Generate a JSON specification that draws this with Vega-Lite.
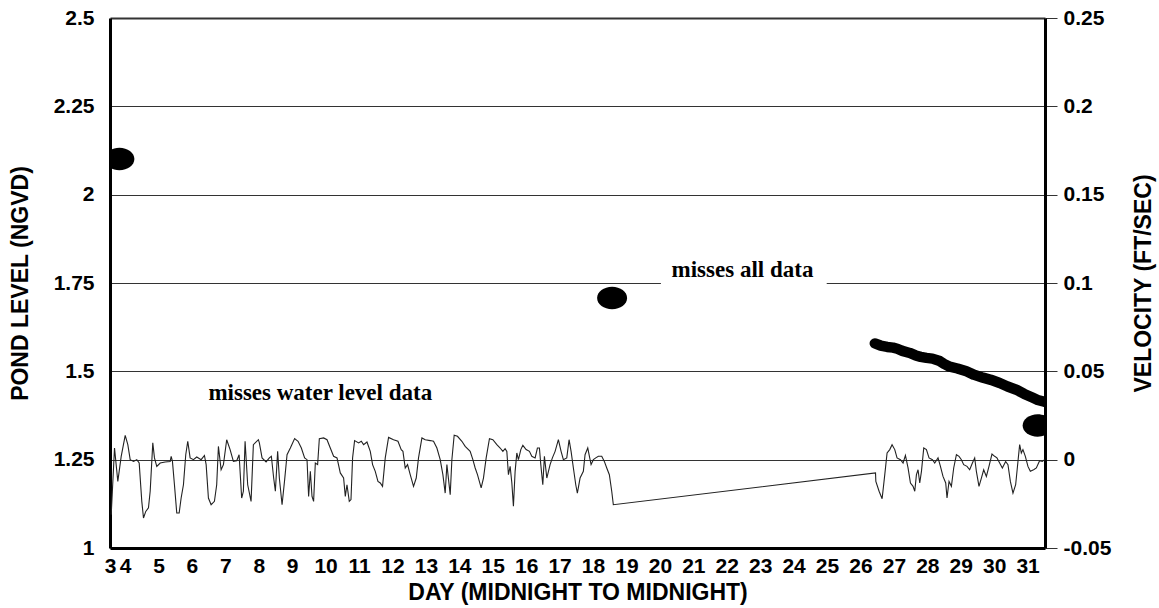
{
  "$schema": "https://vega.github.io/schema/vega-lite/v6.json",
  "width": 935,
  "height": 530,
  "autosize": {"type": "none"},
  "padding": {"left": 110, "top": 18, "right": 114, "bottom": 60},
  "background": "white",
  "config": {
    "view": {"stroke": null},
    "axis": {"labelFont": "Liberation Sans", "titleFont": "Liberation Sans", "labelFontWeight": "bold", "titleFontWeight": "bold", "labelColor": "black", "titleColor": "black", "labelFlush": false, "labelOverlap": false}
  },
  "datasets": {
    "vel": [
      {"day":3.586,"v":-0.0311},{"day":3.685,"v":0.0066},{"day":3.784,"v":-0.0123},{"day":3.885,"v":0.0019},{"day":4.005,"v":0.0138},{"day":4.083,"v":0.0085},{"day":4.154,"v":0.0},{"day":4.253,"v":-0.001},{"day":4.351,"v":0.0},{"day":4.423,"v":-0.0019},{"day":4.501,"v":-0.0236},{"day":4.552,"v":-0.033},{"day":4.62,"v":-0.0293},{"day":4.701,"v":-0.0273},{"day":4.752,"v":-0.0179},{"day":4.83,"v":0.0095},{"day":4.88,"v":0.001},{"day":4.949,"v":-0.0038},{"day":5.051,"v":-0.0019},{"day":5.2,"v":-0.0013},{"day":5.35,"v":-0.001},{"day":5.38,"v":0.0019},{"day":5.418,"v":-0.001},{"day":5.478,"v":-0.0142},{"day":5.547,"v":-0.0302},{"day":5.619,"v":-0.0302},{"day":5.678,"v":-0.0217},{"day":5.747,"v":-0.0142},{"day":5.816,"v":0.0028},{"day":5.876,"v":0.0104},{"day":5.947,"v":0.001},{"day":6.046,"v":0.0},{"day":6.145,"v":0.0015},{"day":6.276,"v":0.0},{"day":6.375,"v":0.0024},{"day":6.426,"v":-0.0028},{"day":6.494,"v":-0.0217},{"day":6.575,"v":-0.0255},{"day":6.674,"v":-0.0236},{"day":6.742,"v":-0.0142},{"day":6.793,"v":0.0075},{"day":6.874,"v":-0.0057},{"day":6.943,"v":-0.0028},{"day":7.041,"v":0.0113},{"day":7.143,"v":0.0057},{"day":7.241,"v":-0.001},{"day":7.34,"v":-0.0006},{"day":7.412,"v":0.0028},{"day":7.489,"v":-0.0217},{"day":7.54,"v":-0.0179},{"day":7.591,"v":0.0104},{"day":7.669,"v":-0.0142},{"day":7.77,"v":-0.0236},{"day":7.839,"v":0.0085},{"day":7.989,"v":0.0113},
      {"day":8.018,"v":0.0095},{"day":8.099,"v":0.001},{"day":8.219,"v":-0.0013},{"day":8.317,"v":0.001},{"day":8.377,"v":0.0019},{"day":8.446,"v":-0.0104},{"day":8.497,"v":-0.0179},{"day":8.565,"v":0.0047},{"day":8.616,"v":-0.0104},{"day":8.697,"v":-0.0255},{"day":8.775,"v":-0.0113},{"day":8.846,"v":0.0028},{"day":8.945,"v":0.0066},{"day":9.073,"v":0.0119},{"day":9.175,"v":0.0104},{"day":9.274,"v":0.0066},{"day":9.372,"v":0.001},{"day":9.444,"v":0.0},{"day":9.492,"v":-0.0208},{"day":9.543,"v":-0.0066},{"day":9.593,"v":-0.0208},{"day":9.641,"v":-0.0236},{"day":9.692,"v":-0.0019},{"day":9.761,"v":-0.0028},{"day":9.812,"v":0.0119},{"day":9.94,"v":0.0123},{"day":10.042,"v":0.0113},{"day":10.14,"v":0.0066},{"day":10.239,"v":0.0019},{"day":10.341,"v":0.001},{"day":10.439,"v":-0.0075},{"day":10.538,"v":-0.0104},{"day":10.589,"v":-0.0208},{"day":10.639,"v":-0.0142},{"day":10.708,"v":-0.0236},{"day":10.759,"v":-0.0226},{"day":10.807,"v":0.001},{"day":10.867,"v":0.0108},{"day":10.986,"v":0.0095},{"day":11.067,"v":0.0104},{"day":11.136,"v":0.0085},{"day":11.237,"v":0.01},{"day":11.336,"v":0.0047},{"day":11.405,"v":-0.0028},{"day":11.485,"v":-0.0066},{"day":11.566,"v":-0.0123},{"day":11.635,"v":-0.0132},{"day":11.703,"v":-0.0151},{"day":11.784,"v":0.001},{"day":11.883,"v":0.0126},{"day":12.032,"v":0.0113},{"day":12.164,"v":0.0104},{"day":12.262,"v":0.0057},{"day":12.313,"v":0.0047},
      {"day":12.382,"v":-0.0047},{"day":12.451,"v":-0.0028},{"day":12.531,"v":-0.0085},{"day":12.63,"v":-0.0151},{"day":12.711,"v":-0.0104},{"day":12.779,"v":0.001},{"day":12.881,"v":0.0123},{"day":12.98,"v":0.0113},{"day":13.129,"v":0.0108},{"day":13.228,"v":0.0104},{"day":13.329,"v":0.0066},{"day":13.428,"v":0.0},{"day":13.508,"v":-0.0085},{"day":13.577,"v":-0.0189},{"day":13.628,"v":-0.0028},{"day":13.727,"v":-0.0198},{"day":13.777,"v":0.0},{"day":13.846,"v":0.0138},{"day":13.945,"v":0.0132},{"day":14.076,"v":0.0104},{"day":14.175,"v":0.0075},{"day":14.324,"v":0.0047},{"day":14.405,"v":0.0},{"day":14.474,"v":-0.0047},{"day":14.543,"v":-0.0085},{"day":14.653,"v":-0.016},{"day":14.722,"v":-0.0104},{"day":14.803,"v":0.001},{"day":14.901,"v":0.0119},{"day":15.003,"v":0.0113},{"day":15.122,"v":0.0085},{"day":15.221,"v":0.0066},{"day":15.302,"v":0.0047},{"day":15.37,"v":0.0062},{"day":15.421,"v":0.0047},{"day":15.469,"v":-0.0085},{"day":15.52,"v":-0.0038},{"day":15.571,"v":-0.0132},{"day":15.618,"v":-0.0264},{"day":15.669,"v":-0.0066},{"day":15.72,"v":0.0038},{"day":15.768,"v":0.0},{"day":15.839,"v":0.0057},{"day":15.9,"v":0.0081},{"day":15.998,"v":0.0057},{"day":16.097,"v":0.0047},{"day":16.168,"v":0.0019},{"day":16.267,"v":0.001},{"day":16.336,"v":0.0066},{"day":16.396,"v":0.0066},{"day":16.437,"v":-0.0028},{"day":16.497,"v":-0.0142},{"day":16.545,"v":0.0019},{"day":16.617,"v":-0.0104},{"day":16.715,"v":-0.0028},
      {"day":16.784,"v":0.001},{"day":16.865,"v":0.0047},{"day":16.963,"v":0.0113},{"day":17.044,"v":0.0047},{"day":17.113,"v":0.0},{"day":17.214,"v":0.001},{"day":17.283,"v":0.0113},{"day":17.343,"v":0.0047},{"day":17.412,"v":-0.0047},{"day":17.483,"v":-0.0142},{"day":17.531,"v":-0.0189},{"day":17.612,"v":-0.0104},{"day":17.71,"v":-0.0066},{"day":17.761,"v":0.0028},{"day":17.842,"v":0.0066},{"day":17.881,"v":0.0028},{"day":17.941,"v":-0.0028},{"day":18.009,"v":0.0},{"day":18.081,"v":0.001},{"day":18.159,"v":0.0019},{"day":18.26,"v":0.0019},{"day":18.338,"v":-0.001},{"day":18.41,"v":-0.0047},{"day":18.488,"v":-0.0085},{"day":18.559,"v":-0.0179},{"day":18.607,"v":-0.0255},
      {"day":26.45,"v":-0.0075},{"day":26.46,"v":-0.0123},{"day":26.557,"v":-0.0179},{"day":26.647,"v":-0.0221},{"day":26.727,"v":-0.0085},{"day":26.796,"v":0.0038},{"day":26.876,"v":0.0057},{"day":26.945,"v":0.0085},{"day":27.026,"v":0.0057},{"day":27.094,"v":0.001},{"day":27.196,"v":0.0},{"day":27.274,"v":-0.0019},{"day":27.345,"v":0.0024},{"day":27.423,"v":-0.0047},{"day":27.495,"v":-0.0132},{"day":27.573,"v":-0.0151},{"day":27.624,"v":-0.0179},{"day":27.674,"v":-0.0085},{"day":27.722,"v":-0.0057},{"day":27.773,"v":-0.0132},{"day":27.824,"v":-0.0066},{"day":27.893,"v":0.0066},{"day":27.973,"v":0.0057},{"day":28.051,"v":0.001},{"day":28.153,"v":0.0},{"day":28.221,"v":-0.0019},{"day":28.32,"v":0.001},{"day":28.392,"v":-0.0038},{"day":28.469,"v":-0.0095},{"day":28.55,"v":-0.0132},{"day":28.589,"v":-0.0217},{"day":28.649,"v":-0.0123},{"day":28.72,"v":-0.0151},{"day":28.789,"v":-0.0047},{"day":28.87,"v":0.0028},{"day":28.948,"v":0.0019},{"day":29.019,"v":0.0},{"day":29.088,"v":-0.0028},{"day":29.187,"v":-0.0038},{"day":29.267,"v":-0.0057},{"day":29.348,"v":-0.0019},{"day":29.417,"v":0.001},{"day":29.467,"v":-0.0066},{"day":29.545,"v":-0.0151},{"day":29.617,"v":-0.0104},{"day":29.686,"v":-0.0057},{"day":29.766,"v":-0.0095},{"day":29.844,"v":-0.0038},{"day":29.934,"v":0.0032},{"day":30.014,"v":0.0019},{"day":30.083,"v":0.001},{"day":30.164,"v":-0.0019},{"day":30.244,"v":-0.0047},{"day":30.343,"v":-0.001},{"day":30.412,"v":-0.0028},{"day":30.484,"v":-0.0123},{"day":30.562,"v":-0.0189},{"day":30.642,"v":-0.0142},{"day":30.711,"v":-0.001},{"day":30.762,"v":0.0085},{"day":30.812,"v":0.0038},{"day":30.86,"v":0.0057},{"day":30.932,"v":0.0019},{"day":31.01,"v":-0.0038},{"day":31.081,"v":-0.0066},{"day":31.18,"v":-0.0057},{"day":31.261,"v":-0.0047},{"day":31.359,"v":-0.0006},{"day":31.44,"v":-0.001},{"day":31.51,"v":0.0}
    ],
    "level": [
      {"day":26.43,"level":1.579},{"day":26.6,"level":1.573},{"day":26.8,"level":1.569},{"day":26.975,"level":1.567},{"day":27.1,"level":1.564},{"day":27.25,"level":1.558},{"day":27.474,"level":1.552},{"day":27.65,"level":1.545},{"day":27.8,"level":1.541},{"day":27.973,"level":1.538},{"day":28.15,"level":1.536},{"day":28.371,"level":1.529},{"day":28.5,"level":1.521},{"day":28.67,"level":1.513},{"day":28.9,"level":1.508},{"day":29.169,"level":1.5},{"day":29.4,"level":1.49},{"day":29.665,"level":1.482},{"day":29.9,"level":1.476},{"day":30.164,"level":1.467},{"day":30.4,"level":1.457},{"day":30.663,"level":1.448},{"day":30.9,"level":1.436},{"day":31.159,"level":1.425},{"day":31.3,"level":1.419},{"day":31.5,"level":1.414}
    ],
    "pts": [
      {"day":3.83,"level":2.101},{"day":18.57,"level":1.7075},{"day":31.3,"level":1.347}
    ],
    "notes": [
      {"day":9.84,"level":1.42,"label":"misses water level data"},
      {"day":22.47,"level":1.768,"label":"misses all data"}
    ],
    "mask": [
      {"day":20.03,"day2":24.99,"level":1.742,"level2":1.8}
    ]
  },
  "encoding": {
    "x": {
      "field": "day", "type": "quantitative",
      "scale": {"domain": [3.55, 31.52], "nice": false, "zero": false},
      "axis": {
        "values": [3.55,4,5,6,7,8,9,10,11,12,13,14,15,16,17,18,19,20,21,22,23,24,25,26,27,28,29,30,31],
        "labelExpr": "'' + floor(datum.value)",
        "grid": false, "ticks": false,
        "domain": true, "domainColor": "black", "domainWidth": 3,
        "labelFontSize": 21, "labelPadding": 7,
        "title": "DAY (MIDNIGHT TO MIDNIGHT)", "titleFontSize": 23,
        "titleBaseline": "top", "titleY": 33
      }
    }
  },
  "layer": [
    {
      "encoding": {
        "y": {
          "field": "level", "type": "quantitative",
          "scale": {"domain": [1, 2.5], "nice": false, "zero": false},
          "axis": {
            "orient": "left",
            "values": [1, 1.25, 1.5, 1.75, 2, 2.25, 2.5],
            "labelExpr": "'' + datum.value",
            "grid": true, "gridColor": "#333",
            "gridWidth": {"condition": {"test": "datum.value == 2.5", "value": 2}, "value": 1},
            "ticks": false,
            "domain": true, "domainColor": "black", "domainWidth": 3,
            "labelFontSize": 21, "labelPadding": 16,
            "title": "POND LEVEL (NGVD)", "titleFontSize": 23,
            "titleAngle": -90, "titleBaseline": "middle", "titleX": -90, "titleY": 265
          }
        }
      },
      "layer": [
        {
          "data": {"name": "mask"},
          "mark": {"type": "rect", "color": "white"},
          "encoding": {"x2": {"field": "day2"}, "y2": {"field": "level2"}}
        },
        {
          "data": {"name": "notes"},
          "mark": {"type": "text", "font": "Liberation Serif", "fontWeight": "bold", "fontSize": 23, "align": "center", "baseline": "alphabetic", "color": "black"},
          "encoding": {"text": {"field": "label"}}
        },
        {
          "data": {"name": "level"},
          "mark": {"type": "line", "color": "black", "strokeWidth": 10.5, "strokeCap": "round", "strokeJoin": "round", "clip": true},
          "encoding": {}
        },
        {
          "data": {"name": "pts"},
          "mark": {"type": "point", "filled": true, "color": "black", "opacity": 1, "shape": "M -1 0 A 1 0.75 0 1 0 1 0 A 1 0.75 0 1 0 -1 0 Z", "size": 900, "clip": true},
          "encoding": {}
        }
      ]
    },
    {
      "data": {"name": "vel"},
      "mark": {"type": "line", "color": "#222", "strokeWidth": 1.1, "clip": true},
      "encoding": {
        "y": {
          "field": "v", "type": "quantitative",
          "scale": {"domain": [-0.05, 0.25], "nice": false, "zero": false},
          "axis": {
            "orient": "right",
            "values": [-0.05, 0, 0.05, 0.1, 0.15, 0.2, 0.25],
            "labelExpr": "'' + datum.value",
            "grid": false,
            "ticks": true, "tickSize": 12, "tickColor": "#333", "tickWidth": 1,
            "domain": true, "domainColor": "black", "domainWidth": 3,
            "labelFontSize": 21, "labelPadding": 6,
            "title": "VELOCITY (FT/SEC)", "titleFontSize": 23,
            "titleAngle": -90, "titleBaseline": "middle", "titleX": 98, "titleY": 265
          }
        }
      }
    }
  ],
  "resolve": {"scale": {"y": "independent"}}
}
